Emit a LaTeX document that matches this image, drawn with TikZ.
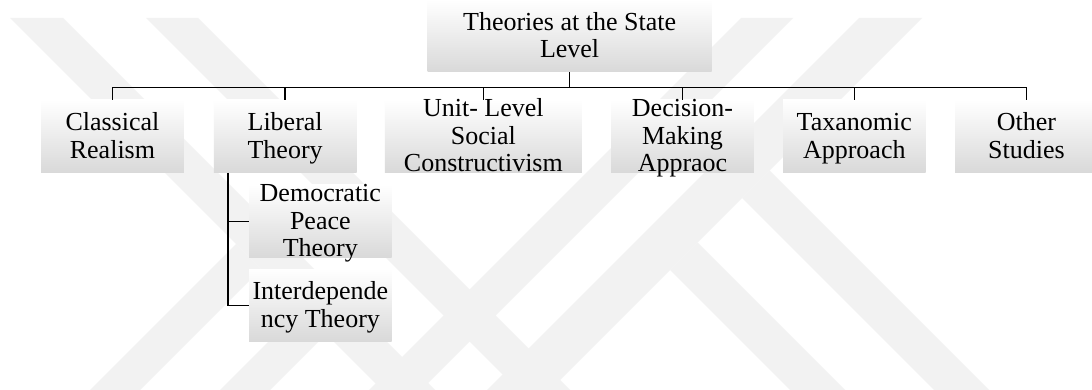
\documentclass[tikz,border=0pt]{standalone}
\usepackage{fontspec}
\setmainfont{Liberation Serif}
\begin{document}
\begin{tikzpicture}[x=1pt,y=-1pt,
  box/.style={rectangle, inner sep=0pt, minimum height=72.7pt,
    top color=white, middle color=white, bottom color=black!15},
  lbl/.style={inner sep=0pt, align=center, font=\fontsize{26}{27.5}\selectfont},
  wire/.style={line width=1.5pt, black},
  wm/.style={fill=black!5}]
\fill[white] (0,0) rectangle (1092,390);
\useasboundingbox (0,0) rectangle (1092,390);

% faint background emblem: diagonal bands
\begin{scope}
  \clip (0,18) rectangle (1092,390);
  % left half: two long falling bands and their rising branches
  \fill[wm] (10,18) -- (63,18) -- (445,400) -- (392,400) -- cycle;
  \fill[wm] (146,18) -- (198,18) -- (580,400) -- (528,400) -- cycle;
  \fill[wm] (236,244) -- (261,269) -- (130,400) -- (80,400) -- cycle;
  \fill[wm] (301,309) -- (326,334) -- (260,400) -- (210,400) -- cycle;
  % right half: two long rising bands and their falling branches
  \fill[wm] (741,18) -- (793,18) -- (411,400) -- (359,400) -- cycle;
  \fill[wm] (859,18) -- (922,18) -- (540,400) -- (477,400) -- cycle;
  \fill[wm] (742,198) -- (769.5,170.5) -- (999,400) -- (944,400) -- cycle;
  \fill[wm] (670,270) -- (697.5,242.5) -- (855,400) -- (800,400) -- cycle;
\end{scope}

% boxes
\node[box, minimum width=284pt, minimum height=72pt] (top) at (569.6,36) {};
\node[box, minimum width=142.7pt] (cr) at (112.45,136.35) {};
\node[box, minimum width=142.7pt] (lt) at (285.15,136.35) {};
\node[box, minimum width=197.1pt] (ul) at (483.35,136.35) {};
\node[box, minimum width=142.7pt] (dm) at (682.5,136.35) {};
\node[box, minimum width=142.4pt] (ta) at (854.3,136.35) {};
\node[box, minimum width=142.7pt] (os) at (1026.5,136.35) {};
\node[box, minimum width=142.7pt] (dp) at (320.35,221.35) {};
\node[box, minimum width=142.7pt] (id) at (320.35,305.35) {};

% labels
\node[lbl] (top-t) at ([yshift=-2.5pt]top.center) {\strut Theories at the State\\Level\strut};
\node[lbl] (cr-t) at ([yshift=-2.5pt]cr.center) {\strut Classical\\Realism\strut};
\node[lbl] (lt-t) at ([yshift=-2.5pt]lt.center) {\strut Liberal\\Theory\strut};
\node[lbl] (ul-t) at ([yshift=-2.5pt]ul.center) {\strut Unit- Level\\Social\\Constructivism\strut};
\node[lbl] (dm-t) at ([yshift=-2.5pt]dm.center) {\strut Decision-\\Making\\Appraoc\strut};
\node[lbl] (ta-t) at ([yshift=-2.5pt]ta.center) {\strut Taxanomic\\Approach\strut};
\node[lbl] (os-t) at ([yshift=-2.5pt]os.center) {\strut Other\\Studies\strut};
\node[lbl] (dp-t) at ([yshift=-2.5pt]dp.center) {\strut Democratic\\Peace\\Theory\strut};
\node[lbl] (id-t) at ([yshift=-2.5pt]id.center) {\strut Interdepende\\ncy Theory\strut};

% connectors
\coordinate (bus) at (0,87.3);
\draw[wire] (top.south) -- (top.south |- bus);
\draw[wire] (cr.north) -- (cr.north |- bus) -- (os.north |- bus) -- (os.north);
\foreach \n in {lt,ul,dm,ta}
  \draw[wire] (\n.north |- bus) -- (\n.north);
\coordinate (lt-drop) at ([xshift=14.2pt]lt.south west);
\draw[wire] (lt-drop) |- (id.west);
\draw[wire] (lt-drop |- dp.west) -- (dp.west);
\end{tikzpicture}
\end{document}
